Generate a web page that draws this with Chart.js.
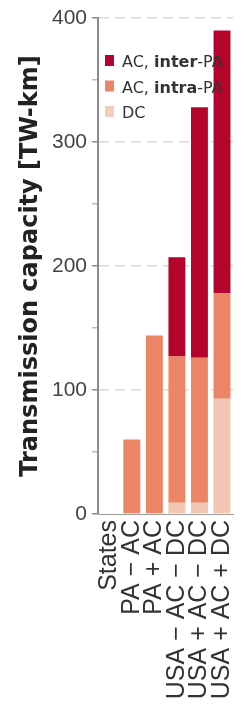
<!DOCTYPE html>
<html>
<head>
<meta charset="utf-8">
<script src="https://cdn.jsdelivr.net/npm/chart.js@4"></script>
<style>
  html, body { margin: 0; padding: 0; background: #fff; }
  #wrap { width: 251px; height: 708px; overflow: hidden; }
</style>
</head>
<body>
<div id="wrap"><canvas id="capacity-chart" width="258" height="708"></canvas></div>
<script>
// Transmission capacity per scenario, stacked by line type
const scenarios = ['States', 'PA \u2212 AC', 'PA + AC', 'USA \u2212 AC \u2212 DC', 'USA + AC \u2212 DC', 'USA + AC + DC'];
const dcValues = [0, 0, 0, 9, 9, 93];
const intraValues = [0, 60, 144, 118, 117, 85];
const interValues = [0, 0, 0, 80, 202, 212];
const yTicks = [0, 100, 200, 300, 400];

// legend text pieces: [normal, bold, normal]
const interLabel = ['AC, ', 'inter', '-PA'];
const intraLabel = ['AC, ', 'intra', '-PA'];
const dcLabel = ['DC', '', ''];

const INTER_COLOR = '#b5042b';
const INTRA_COLOR = '#ec8566';
const DC_COLOR = '#f3c6b3';

// Draws the legend inside the plot, with the bold middle word
const splitLegend = {
  id: 'splitLegend',
  afterDatasetsDraw(chart) {
    const ctx = chart.ctx;
    const items = chart.data.datasets.slice().reverse();
    const x0 = chart.chartArea.left + 7;
    let y = 67;
    ctx.save();
    ctx.textBaseline = 'alphabetic';
    items.forEach(ds => {
      ctx.fillStyle = ds.legendColor || ds.backgroundColor;
      ctx.fillRect(x0, y - 12, 9, 11);
      let x = x0 + 17;
      ds.parts.forEach((part, i) => {
        if (!part) return;
        ctx.font = (i === 1 ? 'bold ' : '') + '16px "DejaVu Sans"';
        ctx.fillStyle = '#333';
        ctx.fillText(part, x, y);
        x += ctx.measureText(part).width;
      });
      y += 25.5;
    });
    ctx.restore();
  }
};

const ctx = document.getElementById('capacity-chart').getContext('2d');
const capacityChart = new Chart(ctx, {
  type: 'bar',
  data: {
    labels: scenarios,
    datasets: [
      { label: 'DC', parts: dcLabel, data: dcValues, backgroundColor: DC_COLOR, legendColor: '#f5cdbf' },
      { label: 'AC, intra-PA', parts: intraLabel, data: intraValues, backgroundColor: INTRA_COLOR },
      { label: 'AC, inter-PA', parts: interLabel, data: interValues, backgroundColor: INTER_COLOR }
    ]
  },
  options: {
    responsive: false,
    animation: false,
    layout: { padding: { top: 18, right: 0, left: 0, bottom: 0 } },
    datasets: {
      bar: { barPercentage: 0.75, categoryPercentage: 1.0, borderWidth: 0 }
    },
    plugins: {
      legend: { display: false },
      tooltip: { enabled: false }
    },
    scales: {
      x: {
        stacked: true,
        grid: { display: false, drawTicks: false },
        border: { display: true, color: '#999', width: 1 },
        ticks: {
          autoSkip: false,
          minRotation: 90,
          maxRotation: 90,
          padding: 6,
          color: '#333',
          font: { family: '"Liberation Sans", Arial, sans-serif', size: 25 }
        },
        afterFit(scale) { scale.height = 194; }
      },
      y: {
        stacked: true,
        min: 0,
        max: 400,
        ticks: {
          stepSize: 50,
          padding: 5,
          color: '#444',
          font: { family: '"Liberation Sans", Arial, sans-serif', size: 21 },
          callback: v => (yTicks.includes(v) ? v : '')
        },
        grid: {
          tickLength: 6,
          color: c => (c.tick && c.tick.value % 100 === 0 && c.tick.value > 0 ? '#d9d9d9' : 'rgba(0,0,0,0)'),
          tickColor: c => (c.tick && c.tick.value % 100 === 0 ? '#888' : '#bbb'),
          lineWidth: 1.5
        },
        border: { display: true, color: '#8c8c8c', width: 2, dash: [10, 6] },
        title: {
          display: true,
          text: 'Transmission capacity [TW-km]',
          color: '#222',
          padding: { top: 16, bottom: 0 },
          font: { family: '"DejaVu Sans", sans-serif', size: 24, weight: 'bold' }
        },
        afterFit(scale) { scale.width = 98; }
      }
    }
  },
  plugins: [splitLegend]
});
</script>
</body>
</html>
